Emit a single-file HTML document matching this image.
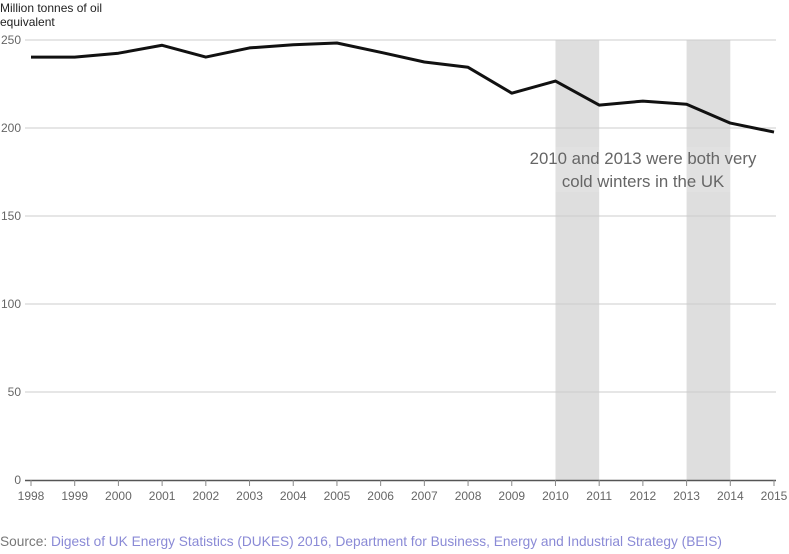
<!DOCTYPE html>
<html><head><meta charset="utf-8"><style>
body{margin:0;background:#fff;width:789px;height:554px;overflow:hidden;font-family:"Liberation Sans",sans-serif}
svg{display:block}
</style></head><body>
<svg id="chart" width="789" height="554">
<text x="0" y="12" font-size="12" fill="#222">Million tonnes of oil</text>
<text x="0" y="26" font-size="12" fill="#222">equivalent</text>
<g id="bands"></g><g id="grid"></g><g id="xaxis"></g><g id="line"></g>
<rect x="530" y="147" width="228" height="45" fill="#fff" fill-opacity="0.1"/>
<text x="643" y="164" font-size="16.8" fill="#666" text-anchor="middle">2010 and 2013 were both very</text>
<text x="643" y="187" font-size="16.8" fill="#666" text-anchor="middle">cold winters in the UK</text>
<text x="0" y="546" font-size="13.7" fill="#777">Source: <tspan fill="#8a8ad6">Digest of UK Energy Statistics (DUKES) 2016, Department for Business, Energy and Industrial Strategy (BEIS)</tspan></text>
</svg>
<script>
const years=[1998,1999,2000,2001,2002,2003,2004,2005,2006,2007,2008,2009,2010,2011,2012,2013,2014,2015];
const values=[240.3,240.3,242.5,247,240.3,245.5,247.3,248.3,243,237.5,234.5,219.8,226.7,213,215.3,213.5,202.8,197.7];
const yTicks=[0,50,100,150,200,250];
const shadedStarts=[2010,2013];
const NS="http://www.w3.org/2000/svg";
const xS=y=>31+(y-1998)*(743/17);
const yS=v=>480-v*1.76;
function mk(tag,attrs,parent){const e=document.createElementNS(NS,tag);for(const k in attrs)e.setAttribute(k,attrs[k]);parent.appendChild(e);return e;}
const bands=document.getElementById('bands');
shadedStarts.forEach(s=>{const r=mk('rect',{x:xS(s),y:yS(250),width:xS(s+1)-xS(s),height:yS(0)-yS(250),fill:'#dedede'},bands);

});
const grid=document.getElementById('grid');
yTicks.forEach(t=>{if(t>0){const l=mk('line',{x1:25,x2:776,y1:yS(t),y2:yS(t),stroke:'#ccc','stroke-width':1},grid);

}
const tx=mk('text',{x:21,y:yS(t)+4,'font-size':12,fill:'#666','text-anchor':'end'},grid);tx.textContent=t;

});
const xa=document.getElementById('xaxis');
const ax=mk('line',{x1:25,x2:776,y1:480.5,y2:480.5,stroke:'#555','stroke-width':1.5},xa);


years.forEach(y=>{const tk=mk('line',{x1:xS(y),x2:xS(y),y1:480,y2:486,stroke:'#888'},xa);


const tx=mk('text',{x:xS(y),y:500,'font-size':12,fill:'#666','text-anchor':'middle'},xa);tx.textContent=y;

});
const p=mk('polyline',{points:years.map((y,i)=>xS(y)+','+yS(values[i])).join(' '),fill:'none',stroke:'#111','stroke-width':3,'stroke-linejoin':'round'},document.getElementById('line'));


</script>
</body></html>
